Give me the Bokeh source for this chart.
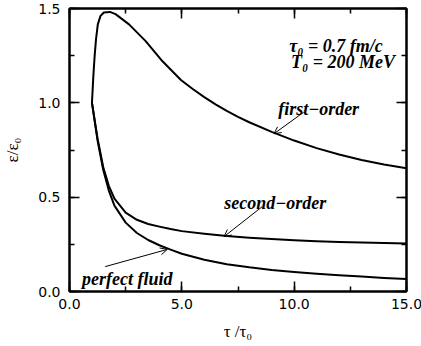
from bokeh.plotting import figure
from bokeh.models import (Range1d, LinearAxis, SingleIntervalTicker, NumeralTickFormatter,
                          CustomJSTickFormatter, Label, Arrow, OpenHead)
from bokeh.embed import file_html
from bokeh.resources import INLINE

# ---- data ----
tau = [1.0, 1.25, 1.5, 1.75, 2.0, 2.5, 3.0, 3.5, 4.0, 4.5, 5.0, 6.0, 7.0, 8.0, 9.0,
       10.0, 11.0, 12.0, 13.0, 14.0, 15.0]
perfect_fluid = [1.0, 0.80, 0.645, 0.535, 0.455, 0.365, 0.31, 0.273, 0.245, 0.222, 0.20,
                 0.168, 0.145, 0.128, 0.114, 0.103, 0.094, 0.086, 0.079, 0.072, 0.066]
second_order = [1.0, 0.81, 0.66, 0.56, 0.492, 0.418, 0.38, 0.358, 0.344, 0.331, 0.32,
                0.306, 0.294, 0.285, 0.278, 0.272, 0.267, 0.263, 0.26, 0.257, 0.255]
tau_first = [1.0, 1.06, 1.12, 1.18, 1.26, 1.38, 1.53, 1.8, 2.05, 2.65, 3.39, 4.14, 4.96,
             5.5, 6.0, 6.5, 7.0, 7.5, 8.0, 9.0, 10.0, 11.0, 12.0, 13.0, 14.0, 15.0]
first_order = [1.0, 1.139, 1.25, 1.336, 1.416, 1.461, 1.479, 1.482, 1.47, 1.416, 1.327,
               1.22, 1.121, 1.072, 1.03, 0.992, 0.957, 0.926, 0.897, 0.846, 0.80, 0.76,
               0.726, 0.697, 0.673, 0.653]

x_major = 5
y_major = 0.5

p = figure(frame_width=337, frame_height=283, output_backend="svg", toolbar_location=None,
           x_range=Range1d(0, 15), y_range=Range1d(0, 1.5),
           x_axis_label="τ /τ₀", y_axis_label="ε/ε₀",
           min_border_left=67, min_border_right=17, min_border_top=8, min_border_bottom=55)
p.styles = {"position": "absolute", "left": "0px", "top": "0px"}
p.grid.visible = False
p.outline_line_color = "black"
p.outline_line_width = 2
p.background_fill_color = "white"
p.border_fill_color = "white"

p.add_layout(LinearAxis(), "above")
p.add_layout(LinearAxis(), "right")

for ax in p.xaxis:
    ax.ticker = SingleIntervalTicker(interval=x_major, num_minor_ticks=2)
for ax in p.yaxis:
    ax.ticker = SingleIntervalTicker(interval=y_major, num_minor_ticks=2)

for ax in p.axis:
    ax.axis_line_width = 2
    ax.axis_line_color = "black"
    ax.major_tick_in = 10
    ax.major_tick_out = 0
    ax.minor_tick_in = 5
    ax.minor_tick_out = 0
    ax.major_tick_line_width = 1.5
    ax.minor_tick_line_width = 1.5
    ax.major_label_text_font = "DejaVu Sans"
    ax.major_label_text_font_size = "14px"
    ax.major_label_text_color = "black"
    ax.axis_label_text_font = "Liberation Serif"
    ax.axis_label_text_font_style = "normal"
    ax.axis_label_text_font_size = "17px"
    ax.axis_label_text_color = "black"

p.below[0].formatter = NumeralTickFormatter(format="0.0")
p.left[0].formatter = NumeralTickFormatter(format="0.0")
p.below[0].major_label_standoff = 7
p.left[0].major_label_standoff = 9
p.below[0].axis_label_standoff = 10
p.left[0].axis_label_standoff = 13
for ax in (p.above[0], p.right[0]):
    ax.formatter = CustomJSTickFormatter(code="return ''")
    ax.major_label_standoff = 0

lw = 2
p.line(tau, perfect_fluid, line_color="black", line_width=lw, line_join="round", line_cap="round")
p.line(tau, second_order, line_color="black", line_width=lw, line_join="round", line_cap="round")
p.line(tau_first, first_order, line_color="black", line_width=lw, line_join="round", line_cap="round")

font = "Liberation Serif"
def lab(x, y, text):
    p.add_layout(Label(x=x, y=y, text=text, text_font=font, text_font_style="bold italic",
                       text_font_size="18px", text_color="black",
                       text_baseline="alphabetic", text_align="left"))

lab(9.78, 1.30, "τ₀ = 0.7 fm/c")
lab(9.86, 1.219, "T₀ = 200 MeV")
lab(9.29, 0.965, "first−order")
lab(6.89, 0.470, "second−order")
lab(0.56, 0.064, "perfect fluid")

def arr(x0, y0, x1, y1):
    p.add_layout(Arrow(end=OpenHead(size=7, line_width=1, line_color="black"),
                       x_start=x0, y_start=y0, x_end=x1, y_end=y1,
                       line_width=1, line_color="black"))

arr(10.42, 0.95, 9.10, 0.836)
arr(8.58, 0.450, 6.88, 0.291)
arr(1.59, 0.132, 4.35, 0.223)

open("out.html", "w").write(file_html(p, INLINE))
